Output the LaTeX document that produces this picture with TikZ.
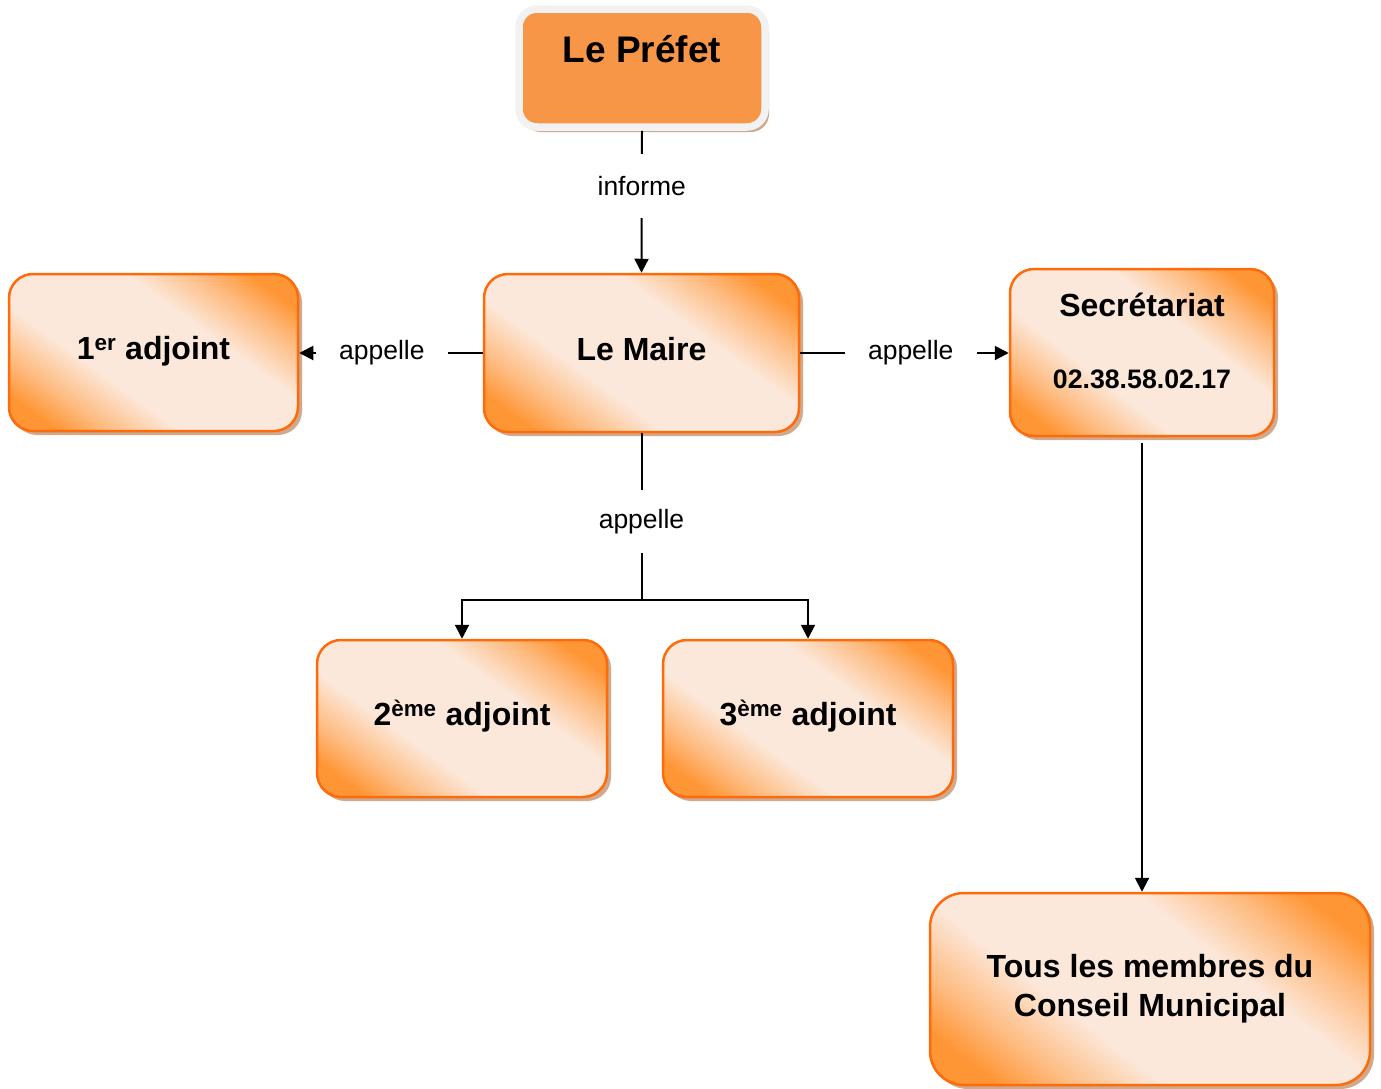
\documentclass[tikz,border=0pt]{standalone}
\usepackage{fontspec}
\setmainfont{Liberation Sans}
\usetikzlibrary{arrows.meta,shadows}
\definecolor{orD}{HTML}{FF9636}
\definecolor{orL}{HTML}{FCE8DA}
\definecolor{orB}{HTML}{FF6A0A}
\definecolor{shad}{HTML}{CFAA8E}
\definecolor{prefF}{HTML}{F79646}
\definecolor{prefB}{HTML}{F2F2F2}
\colorlet{orM}{orD!55!orL}
\pgfdeclarehorizontalshading{boxshade}{100bp}{color(0bp)=(orD); color(22bp)=(orD); color(29bp)=(orM); color(39bp)=(orL); color(61bp)=(orL); color(71bp)=(orM); color(78bp)=(orD); color(100bp)=(orD)}
\tikzset{
  box/.style={rectangle, rounded corners=24pt, draw=orB, line width=2.5pt,
    shading=boxshade, shading angle=54,
    drop shadow={shadow xshift=4pt, shadow yshift=-4pt, fill=shad, opacity=1},
    font=\fontsize{32}{38}\selectfont\bfseries, align=center, inner sep=0pt},
  onel/.style={text height=22pt, text depth=8pt},
  prefbox/.style={rectangle, rounded corners=18pt, draw=prefB, line width=7.5pt,
    fill=prefF,
    drop shadow={shadow xshift=4pt, shadow yshift=-5pt, fill=shad, opacity=1},
    font=\fontsize{37}{42}\selectfont\bfseries, inner sep=0pt},
  conn/.style={line width=2pt, draw=black},
  arr/.style={conn, -{Triangle[length=14pt,width=14pt]}},
  lbl/.style={fill=white, font=\fontsize{26.5}{30}\selectfont, inner sep=0pt}
}
\begin{document}
\begin{tikzpicture}[x=1pt,y=-1pt]
\useasboundingbox (0,0) rectangle (1381,1088);
\node[prefbox, minimum width=246pt, minimum height=118pt, text height=26pt, text depth=38pt] (prefet) at (642,68) {Le Préfet};
\node[box, onel, minimum width=315pt, minimum height=158pt] (maire) at (641.5,353) {Le Maire};
\node[box, onel, minimum width=289pt, minimum height=157pt] (adj1) at (153.5,352.5) {1\textsuperscript{er} adjoint};
\node[box, shading angle=52, minimum width=264pt, minimum height=167pt] (sec) at (1142,352.5) {Secrétariat\\[34pt]{\fontsize{26.7}{30}\selectfont 02.38.58.02.17\rule[-23pt]{0pt}{0pt}}};
\node[box, onel, minimum width=290pt, minimum height=157pt] (adj2) at (462,718.5) {2\textsuperscript{ème} adjoint};
\node[box, onel, minimum width=290pt, minimum height=157pt] (adj3) at (808,718.5) {3\textsuperscript{ème} adjoint};
\node[box, shading angle=52, rounded corners=34pt, minimum width=440pt, minimum height=192pt, yshift=1pt] (tous) at (1150,990) {Tous les membres du\\[1pt]Conseil Municipal};
\coordinate (split) at (641.5,600);
% connectors
\draw[arr] (prefet.south) -- node[lbl, pos=0.39, minimum height=64pt]{informe} (maire.north);
\draw[arr] (maire.west) -- node[lbl, pos=0.55, minimum width=132pt]{appelle} (maire.west -| adj1.east);
\draw[arr] (maire.east) -- node[lbl, pos=0.53, minimum width=132pt]{appelle} (maire.east -| sec.west);
\draw[conn] (maire.south) -- node[lbl, pos=0.53, minimum height=63pt]{appelle} (split);
\draw[arr] (split) -| (adj2.north);
\draw[arr] (split) -| (adj3.north);
\draw[arr, shorten <=6pt] (sec.south) -- (sec.south |- tous.north);
\end{tikzpicture}
\end{document}
